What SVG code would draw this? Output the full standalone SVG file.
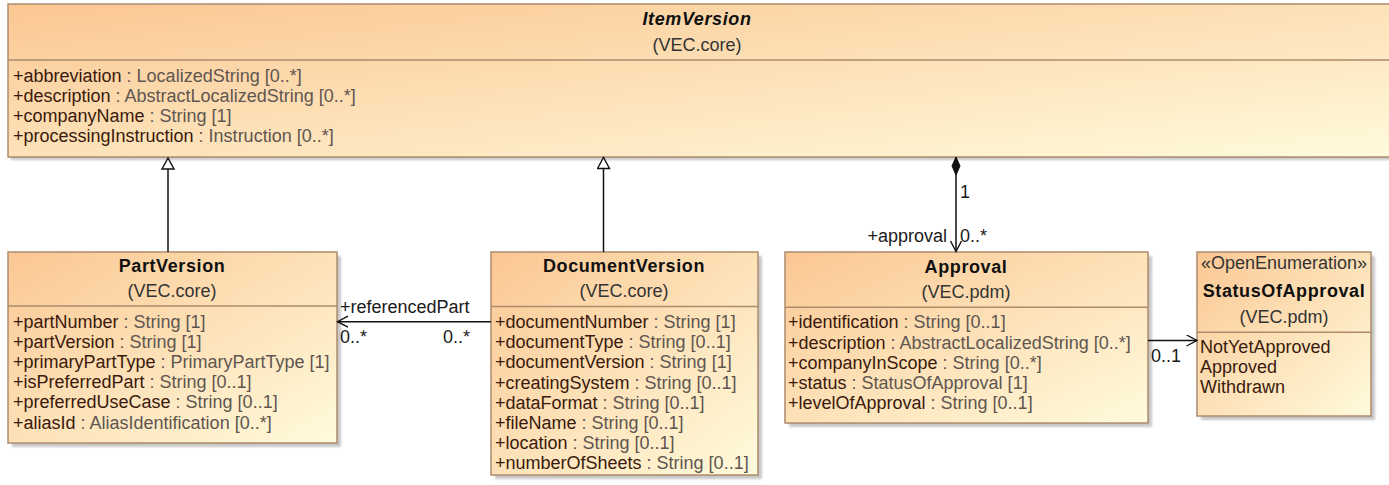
<svg xmlns="http://www.w3.org/2000/svg" width="1389" height="485" viewBox="0 0 1389 485">
<style>
.box{stroke:#ad8b6c;stroke-width:1.5;fill:url(#grad)}
.sh{fill:#9a9a9a;opacity:0.55;filter:url(#blur)}
.div{stroke:#ad8b6c;stroke-width:1.5}
text{font-family:"Liberation Sans",Arial,sans-serif;font-size:18px}
.title{font-weight:bold;fill:#111;text-anchor:middle;letter-spacing:0.6px}
.pkg{fill:#333;text-anchor:middle}
.n{fill:#3a1a0c}
.t{fill:#5f5650}
.lbl{fill:#1a1a1a}
.conn{stroke:#111;stroke-width:1.5;fill:none}
</style>
<defs>
<linearGradient id="grad" x1="0" y1="0" x2="1" y2="1">
<stop offset="0" stop-color="#fbc793"/>
<stop offset="1" stop-color="#fffbdc"/>
</linearGradient>
<filter id="blur" x="-5%" y="-5%" width="110%" height="110%"><feGaussianBlur stdDeviation="1.2"/></filter>
<marker id="gen" markerUnits="userSpaceOnUse" markerWidth="16" markerHeight="16" viewBox="0 0 16 16" refX="12.5" refY="7" orient="auto">
<path d="M1.5,1 L12.5,7 L1.5,13 Z" fill="#fff" stroke="#111" stroke-width="1.4"/>
</marker>
<marker id="open" markerUnits="userSpaceOnUse" markerWidth="14" markerHeight="14" viewBox="0 0 14 14" refX="11.5" refY="6" orient="auto">
<path d="M1,0.5 L11.5,6 L1,11.5" fill="none" stroke="#111" stroke-width="1.4"/>
</marker>
<marker id="dia" markerUnits="userSpaceOnUse" markerWidth="20" markerHeight="10" viewBox="0 0 20 10" refX="0" refY="5" orient="auto">
<path d="M0,5 L9,1 L18,5 L9,9 Z" fill="#111" stroke="#111" stroke-width="1"/>
</marker>
</defs>

<g id="ItemVersion">
<rect class="sh" x="11" y="7" width="1400" height="153"/>
<rect class="box" x="8" y="4" width="1400" height="153"/>
<line class="div" x1="8" y1="60" x2="1408" y2="60"/>
<text class="title" x="697" y="25" font-style="italic">ItemVersion</text>
<text class="pkg" x="697" y="51">(VEC.core)</text>
<text x="13" y="81.5"><tspan class="n">+abbreviation</tspan><tspan class="t"> : LocalizedString [0..*]</tspan></text>
<text x="13" y="101.7"><tspan class="n">+description</tspan><tspan class="t"> : AbstractLocalizedString [0..*]</tspan></text>
<text x="13" y="121.9"><tspan class="n">+companyName</tspan><tspan class="t"> : String [1]</tspan></text>
<text x="13" y="142.1"><tspan class="n">+processingInstruction</tspan><tspan class="t"> : Instruction [0..*]</tspan></text>
</g>

<g id="PartVersion">
<rect class="sh" x="12" y="256" width="329" height="191"/>
<rect class="box" x="8" y="252" width="329" height="191"/>
<line class="div" x1="8" y1="306" x2="337" y2="306"/>
<text class="title" x="172" y="272">PartVersion</text>
<text class="pkg" x="172" y="297">(VEC.core)</text>
<text x="13" y="327.5"><tspan class="n">+partNumber</tspan><tspan class="t"> : String [1]</tspan></text>
<text x="13" y="347.7"><tspan class="n">+partVersion</tspan><tspan class="t"> : String [1]</tspan></text>
<text x="13" y="367.9"><tspan class="n">+primaryPartType</tspan><tspan class="t"> : PrimaryPartType [1]</tspan></text>
<text x="13" y="388.1"><tspan class="n">+isPreferredPart</tspan><tspan class="t"> : String [0..1]</tspan></text>
<text x="13" y="408.3"><tspan class="n">+preferredUseCase</tspan><tspan class="t"> : String [0..1]</tspan></text>
<text x="13" y="428.5"><tspan class="n">+aliasId</tspan><tspan class="t"> : AliasIdentification [0..*]</tspan></text>
</g>

<g id="DocumentVersion">
<rect class="sh" x="495" y="256" width="267" height="223"/>
<rect class="box" x="491" y="252" width="267" height="223"/>
<line class="div" x1="491" y1="306.5" x2="758" y2="306.5"/>
<text class="title" x="624" y="272">DocumentVersion</text>
<text class="pkg" x="624" y="297">(VEC.core)</text>
<text x="495" y="328"><tspan class="n">+documentNumber</tspan><tspan class="t"> : String [1]</tspan></text>
<text x="495" y="348.2"><tspan class="n">+documentType</tspan><tspan class="t"> : String [0..1]</tspan></text>
<text x="495" y="368.4"><tspan class="n">+documentVersion</tspan><tspan class="t"> : String [1]</tspan></text>
<text x="495" y="388.6"><tspan class="n">+creatingSystem</tspan><tspan class="t"> : String [0..1]</tspan></text>
<text x="495" y="408.8"><tspan class="n">+dataFormat</tspan><tspan class="t"> : String [0..1]</tspan></text>
<text x="495" y="429"><tspan class="n">+fileName</tspan><tspan class="t"> : String [0..1]</tspan></text>
<text x="495" y="449.2"><tspan class="n">+location</tspan><tspan class="t"> : String [0..1]</tspan></text>
<text x="495" y="469.4"><tspan class="n">+numberOfSheets</tspan><tspan class="t"> : String [0..1]</tspan></text>
</g>

<g id="Approval">
<rect class="sh" x="789" y="256" width="363" height="171"/>
<rect class="box" x="785" y="252" width="363" height="171"/>
<line class="div" x1="785" y1="307.3" x2="1148" y2="307.3"/>
<text class="title" x="966" y="273">Approval</text>
<text class="pkg" x="966" y="298">(VEC.pdm)</text>
<text x="788" y="328.3"><tspan class="n">+identification</tspan><tspan class="t"> : String [0..1]</tspan></text>
<text x="788" y="348.5"><tspan class="n">+description</tspan><tspan class="t"> : AbstractLocalizedString [0..*]</tspan></text>
<text x="788" y="368.7"><tspan class="n">+companyInScope</tspan><tspan class="t"> : String [0..*]</tspan></text>
<text x="788" y="388.9"><tspan class="n">+status</tspan><tspan class="t"> : StatusOfApproval [1]</tspan></text>
<text x="788" y="409.1"><tspan class="n">+levelOfApproval</tspan><tspan class="t"> : String [0..1]</tspan></text>
</g>

<g id="StatusOfApproval">
<rect class="sh" x="1201" y="256" width="174" height="164"/>
<rect class="box" x="1197" y="252" width="174" height="164"/>
<line class="div" x1="1197" y1="332.3" x2="1371" y2="332.3"/>
<text class="pkg" x="1284" y="269.3" fill="#222">«OpenEnumeration»</text>
<text class="title" x="1284" y="296.7" letter-spacing="0.3px">StatusOfApproval</text>
<text class="pkg" x="1284" y="323.3">(VEC.pdm)</text>
<text class="n" x="1200" y="353.3">NotYetApproved</text>
<text class="n" x="1200" y="373.3">Approved</text>
<text class="n" x="1200" y="393.3">Withdrawn</text>
</g>

<g id="connectors">
<line class="conn" x1="168" y1="252" x2="168" y2="158" marker-end="url(#gen)"/>
<line class="conn" x1="603.5" y1="252" x2="603.5" y2="157.5" marker-end="url(#gen)"/>
<line class="conn" x1="491" y1="321.7" x2="337.5" y2="321.7" marker-end="url(#open)"/>
<line class="conn" x1="956" y1="157" x2="956" y2="251.5" marker-start="url(#dia)" marker-end="url(#open)"/>
<line class="conn" x1="1148" y1="340.5" x2="1197" y2="340.5" marker-end="url(#open)"/>
<text class="lbl" x="340" y="312.7">+referencedPart</text>
<text class="lbl" x="340" y="343">0..*</text>
<text class="lbl" x="443" y="343">0..*</text>
<text class="lbl" x="960" y="198">1</text>
<text class="lbl" x="947" y="241.7" text-anchor="end">+approval</text>
<text class="lbl" x="960" y="241.7">0..*</text>
<text class="lbl" x="1151" y="361.7">0..1</text>
</g>
</svg>
